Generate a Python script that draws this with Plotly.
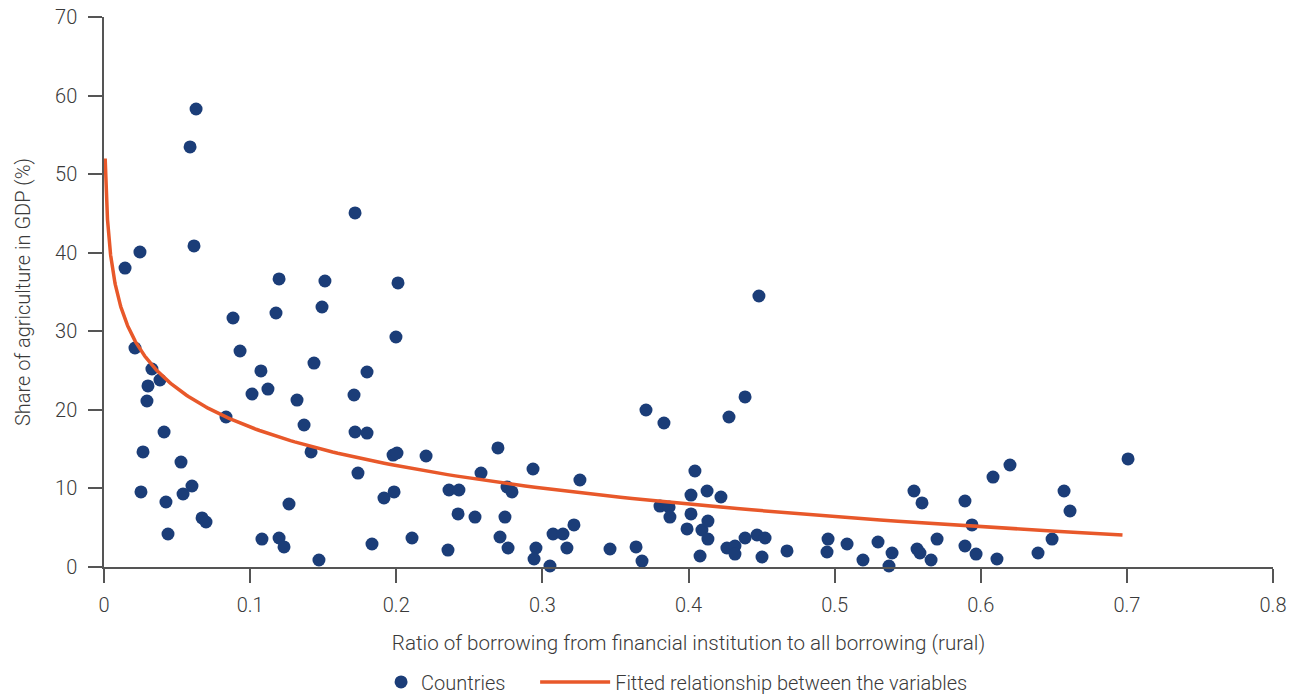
import numpy as np
import plotly.graph_objects as go

# Ratio of borrowing from financial institution to all borrowing (rural)
ratio = [0.0144, 0.0246, 0.0212, 0.0253, 0.0267, 0.0294, 0.0301, 0.0328, 0.0383, 0.0411,
         0.0424, 0.0438, 0.0527, 0.0541, 0.0589, 0.0630, 0.0616, 0.0602, 0.0671, 0.0698,
         0.0835, 0.0883, 0.0931, 0.1013, 0.1074, 0.1081, 0.1122, 0.1177, 0.1198, 0.1198,
         0.1232, 0.1266, 0.1321, 0.1369, 0.1417, 0.1437, 0.1471, 0.1492, 0.1512, 0.1718,
         0.1711, 0.1718, 0.1738, 0.1800, 0.1800, 0.1834, 0.1916, 0.1978, 0.2005, 0.1985,
         0.1998, 0.2012, 0.2108, 0.2204, 0.2354, 0.2361, 0.2429, 0.2423, 0.2539, 0.2580,
         0.2696, 0.2710, 0.2744, 0.2758, 0.2792, 0.2765, 0.2936, 0.2956, 0.2943, 0.3052,
         0.3073, 0.3141, 0.3168, 0.3216, 0.3257, 0.3463, 0.3641, 0.3682, 0.3709, 0.3832,
         0.3805, 0.3867, 0.3873, 0.3990, 0.4017, 0.4017, 0.4044, 0.4079, 0.4092, 0.4133,
         0.4127, 0.4133, 0.4222, 0.4277, 0.4387, 0.4482, 0.4263, 0.4318, 0.4318, 0.4387,
         0.4469, 0.4524, 0.4503, 0.4674, 0.4955, 0.4948, 0.5085, 0.5194, 0.5297, 0.5372,
         0.5393, 0.5543, 0.5598, 0.5564, 0.5584, 0.5660, 0.5701, 0.5892, 0.5940, 0.5892,
         0.5968, 0.6084, 0.6200, 0.6111, 0.6392, 0.6488, 0.6570, 0.6611, 0.7008]

# Share of agriculture in GDP (%)
agri_share = [38.05, 40.09, 27.87, 9.55, 14.64, 21.13, 23.04, 25.20, 23.80, 17.18,
              8.27, 4.20, 13.36, 9.29, 53.46, 58.29, 40.86, 10.31, 6.24, 5.73,
              19.09, 31.69, 27.49, 22.02, 24.95, 3.56, 22.65, 32.33, 36.66, 3.69,
              2.55, 8.02, 21.25, 18.07, 14.64, 25.96, 0.89, 33.09, 36.40, 45.06,
              21.89, 17.18, 11.96, 24.82, 17.05, 2.93, 8.78, 14.25, 14.51, 9.55,
              29.27, 36.15, 3.69, 14.13, 2.16, 9.80, 9.80, 6.75, 6.36, 11.96,
              15.15, 3.82, 6.36, 10.18, 9.55, 2.42, 12.47, 2.42, 1.02, 0.13,
              4.20, 4.20, 2.42, 5.35, 11.07, 2.29, 2.55, 0.76, 19.98, 18.33,
              7.76, 7.64, 6.36, 4.84, 9.16, 6.75, 12.22, 1.40, 4.71, 5.85,
              9.67, 3.56, 8.91, 19.09, 21.64, 34.49, 2.42, 2.67, 1.65, 3.69,
              4.07, 3.69, 1.27, 2.04, 3.56, 1.91, 2.93, 0.89, 3.18, 0.13,
              1.78, 9.67, 8.15, 2.29, 1.78, 0.89, 3.56, 8.40, 5.35, 2.67,
              1.65, 11.45, 12.98, 1.02, 1.78, 3.56, 9.67, 7.13, 13.75]

# Fitted logarithmic relationship (y = intercept + slope * ln(x)), coefficients
fit_intercept = 1.51
fit_slope = -7.08
fit_x_start = 0.0008
fit_x_end = 0.697

x_ticks = [0, 0.1, 0.2, 0.3, 0.4, 0.5, 0.6, 0.7, 0.8]
x_tick_labels = ["0", "0.1", "0.2", "0.3", "0.4", "0.5", "0.6", "0.7", "0.8"]
y_ticks = [0, 10, 20, 30, 40, 50, 60, 70]

fit_x = np.geomspace(fit_x_start, fit_x_end, 300)
fit_y = fit_intercept + fit_slope * np.log(fit_x)

FONT = dict(family="Roboto, Liberation Sans, sans-serif", size=20, color="#3a3a3a", weight=300)
TITLE_FONT = dict(FONT, size=20.6)
AXIS_COLOR = "#555555"

fig = go.Figure()
fig.add_trace(go.Scatter(
    x=ratio, y=agri_share, mode="markers", name="Countries",
    marker=dict(color="#1b3d78", size=13, line=dict(width=0)),
    cliponaxis=False, legend="legend",
))
fig.add_trace(go.Scatter(
    x=fit_x, y=fit_y, mode="lines", name="Fitted relationship between the variables",
    line=dict(color="#e8582a", width=3.5), legend="legend2",
))

fig.update_layout(
    width=1299, height=695,
    margin=dict(l=104, r=26, t=17, b=128, autoexpand=False),
    paper_bgcolor="white", plot_bgcolor="white",
    font=FONT,
    showlegend=True,
    legend=dict(orientation="h", x=0.237, xanchor="left", y=-0.209, yanchor="middle",
                font=FONT, itemwidth=30),
    legend2=dict(orientation="h", x=0.3688, xanchor="left", y=-0.209, yanchor="middle",
                 font=FONT, itemwidth=70),
    xaxis=dict(
        range=[0, 0.8], tickvals=x_ticks, ticktext=x_tick_labels, automargin=False,
        showgrid=False, zeroline=False, showline=True, linecolor=AXIS_COLOR, linewidth=1.5,
        ticks="outside", ticklen=14, tickwidth=1.5, tickcolor=AXIS_COLOR,
        ticklabelstandoff=5, ticklabeloverflow="allow",
        title=dict(text="Ratio of borrowing from financial institution to all borrowing (rural)",
                   font=TITLE_FONT, standoff=20),
        tickfont=FONT,
    ),
    yaxis=dict(
        range=[0, 70], tickvals=y_ticks, automargin=False,
        showgrid=False, zeroline=False, showline=True, linecolor=AXIS_COLOR, linewidth=1.5,
        ticks="outside", ticklen=14, tickwidth=1.5, tickcolor=AXIS_COLOR,
        ticklabelstandoff=7, ticklabeloverflow="allow",
        title=dict(text="Share of agriculture in GDP (%)", font=FONT, standoff=19),
        tickfont=FONT,
    ),
)

# Remove the browser's default 8px page margin so the figure fills the window exactly.
fig.write_html("out.html",
               config={"displayModeBar": False},
               post_script="document.body.style.margin='0';document.body.style.overflow='hidden';")
